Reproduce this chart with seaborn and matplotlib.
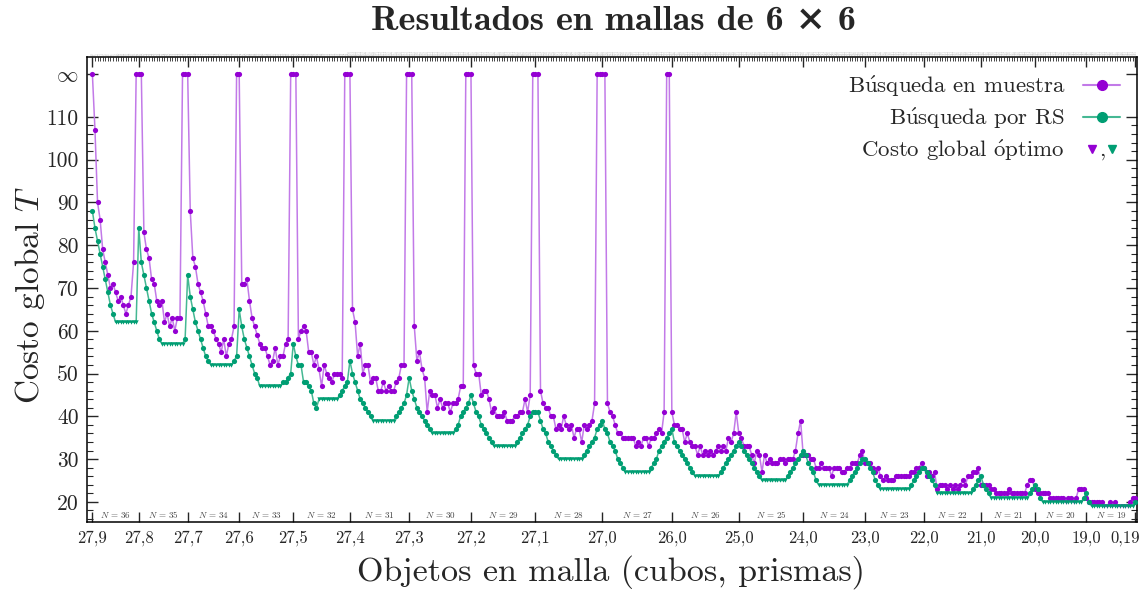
import numpy as np
import pandas as pd
import seaborn as sns
import matplotlib.pyplot as plt
import matplotlib.transforms as mtransforms
from matplotlib.lines import Line2D
from matplotlib.legend_handler import HandlerTuple

INF = np.inf

# Segmentos por numero de objetos N y etiquetas del eje x
segmentos_N = [36, 35, 34, 33, 32, 31, 30, 29, 28, 27, 26, 25, 24, 23, 22, 21, 20, 19]
etiquetas_x = ["27,9", "27,8", "27,7", "27,6", "27,5", "27,4", "27,3", "27,2", "27,1",
               "27,0", "26,0", "25,0", "24,0", "23,0", "22,0", "21,0", "20,0", "19,0", "0,19"]
optimo = [62, 57, 52, 47, 44, 39, 36, 33, 30, 27, 26, 25, 24, 23, 22, 21, 20, 19]

# Busqueda en muestra (INF = sin solucion)
m36 = [INF, 107, 90, 86, 79, 76, 73, 70, 71, 69, 67, 68, 66, 64, 66, 68, 76, INF]
m35 = [INF, INF, 83, 79, 77, 72, 71, 67, 66, 67, 62, 64, 61, 63, 60, 63, 63, INF, INF]
m34 = [INF, 88, 77, 75, 71, 69, 67, 64, 61, 61, 60, 58, 57, 55, 58, 54, 57, 58, 61, INF]
m33 = [INF, 71, 71, 72, 67, 63, 61, 59, 57, 56, 56, 54, 52, 53, 56, 52, 54, 54, 57, 58, INF]
m32 = [INF, INF, 58, 60, 61, 60, 55, 55, 52, 54, 51, 47, 52, 50, 49, 48, 50, 50, 50, 49, INF, INF]
m31 = [INF, 65, 62, 54, 57, 50, 52, 52, 48, 49, 49, 46, 46, 48, 46, 47, 46, 46, 48, 49, 52, 52, INF]
m30 = [INF, INF, 61, 53, 55, 51, 49, 41, 46, 45, 45, 42, 44, 42, 43, 43, 41, 43, 43, 44, 47, 47, INF, INF]
m29 = [INF, 52, 50, 50, 45, 46, 46, 44, 41, 42, 40, 40, 40, 41, 39, 39, 39, 40, 40, 41, 41, 44, 41, 45, INF]
m28 = [INF, INF, 46, 43, 42, 42, 40, 40, 37, 38, 37, 40, 38, 37, 38, 35, 37, 37, 34, 38, 37, 38, 39, 43, INF, INF]
m27 = [INF, INF, 43, 41, 40, 38, 36, 36, 35, 35, 35, 35, 35, 33, 34, 33, 35, 35, 33, 35, 35, 36, 37, 36, 41, INF, INF]
m26 = [41, 38, 38, 37, 37, 34, 36, 34, 33, 33, 31, 33, 31, 32, 31, 32, 31, 32, 33, 32, 33, 32, 35, 34, 36, 41]
m25 = [36, 35, 33, 33, 33, 31, 29, 32, 31, 27, 31, 29, 30, 29, 29, 29, 30, 30, 29, 30, 30, 30, 32, 36, 39]
m24 = [31, 31, 31, 30, 30, 28, 28, 29, 28, 28, 28, 26, 28, 28, 28, 27, 27, 28, 28, 29, 29, 29, 31, 32]
m23 = [29, 29, 29, 28, 27, 28, 26, 25, 26, 25, 25, 25, 26, 26, 26, 26, 26, 26, 27, 27, 28, 28, 29]
m22 = [28, 26, 27, 26, 27, 23, 24, 24, 24, 23, 24, 23, 24, 23, 24, 25, 24, 26, 26, 27, 27, 28]
m21 = [24, 24, 24, 24, 23, 23, 22, 22, 22, 22, 22, 23, 22, 22, 22, 22, 22, 22, 24, 25, 25]
m20 = [23, 22, 22, 22, 22, 22, 21, 21, 21, 21, 21, 21, 20, 21, 21, 20, 21, 23, 23, 23]
m19 = [21, 20, 20, 20, 20, 20, 20, 19, 19, 20, 19, 20, 19, 19, 19, 19, 19, 20, 21, 21]

# Busqueda por RS
rs36 = [88, 84, 81, 78, 75, 72, 69, 66, 64, 62, 62, 62, 62, 62, 62, 62, 62, 62]
rs35 = [84, 76, 73, 70, 67, 64, 62, 60, 58, 57, 57, 57, 57, 57, 57, 57, 57, 57, 58]
rs34 = [73, 68, 65, 62, 60, 58, 56, 54, 53, 52, 52, 52, 52, 52, 52, 52, 52, 52, 53, 54]
rs33 = [65, 61, 58, 56, 54, 52, 50, 49, 47, 47, 47, 47, 47, 47, 47, 47, 47, 48, 48, 49, 50]
rs32 = [57, 54, 52, 52, 48, 48, 47, 46, 43, 42, 44, 44, 44, 44, 44, 44, 44, 44, 45, 46, 47, 48]
rs31 = [53, 50, 48, 46, 44, 43, 42, 41, 40, 39, 39, 39, 39, 39, 39, 39, 39, 39, 40, 41, 42, 43, 45]
rs30 = [49, 46, 44, 42, 41, 40, 39, 38, 37, 36, 36, 36, 36, 36, 36, 36, 36, 36, 37, 38, 40, 41, 42, 43]
rs29 = [45, 43, 41, 40, 38, 37, 36, 35, 34, 33, 33, 33, 33, 33, 33, 33, 33, 33, 34, 35, 36, 37, 38, 40, 41]
rs28 = [41, 41, 39, 37, 36, 34, 33, 32, 31, 30, 30, 30, 30, 30, 30, 30, 30, 30, 30, 31, 32, 33, 34, 35, 37, 38]
rs27 = [39, 37, 36, 34, 33, 32, 30, 29, 28, 27, 27, 27, 27, 27, 27, 27, 27, 27, 27, 28, 29, 30, 32, 33, 34, 35, 36]
rs26 = [37, 34, 33, 32, 31, 30, 29, 28, 27, 26, 26, 26, 26, 26, 26, 26, 26, 26, 26, 27, 28, 29, 30, 31, 32, 33]
rs25 = [34, 33, 32, 31, 30, 29, 28, 27, 26, 25, 25, 25, 25, 25, 25, 25, 25, 25, 25, 26, 27, 28, 29, 30, 31]
rs24 = [32, 31, 29, 28, 27, 25, 24, 24, 24, 24, 24, 24, 24, 24, 24, 24, 24, 24, 25, 26, 27, 28, 29, 30]
rs23 = [30, 29, 28, 27, 25, 24, 23, 23, 23, 23, 23, 23, 23, 23, 23, 23, 23, 23, 24, 25, 26, 27, 28]
rs22 = [28, 27, 26, 25, 24, 22, 22, 22, 22, 22, 22, 22, 22, 22, 22, 22, 22, 22, 22, 23, 24, 25]
rs21 = [26, 24, 23, 22, 21, 21, 21, 21, 21, 21, 21, 21, 21, 21, 21, 21, 21, 21, 21, 22, 23]
rs20 = [24, 23, 21, 20, 20, 20, 20, 20, 20, 20, 20, 20, 20, 20, 20, 20, 20, 20, 20, 21]
rs19 = [22, 20, 19, 19, 19, 19, 19, 19, 19, 19, 19, 19, 19, 19, 19, 19, 19, 19, 19, 20]

muestra_seg = [m36, m35, m34, m33, m32, m31, m30, m29, m28, m27, m26, m25, m24, m23, m22, m21, m20, m19]
rs_seg = [rs36, rs35, rs34, rs33, rs32, rs31, rs30, rs29, rs28, rs27, rs26, rs25, rs24, rs23, rs22,
          rs21, rs20, rs19]

# Tabla larga con un indice por configuracion
filas = []
inicios = []
k = 0
for n, ms, rs, opt in zip(segmentos_N, muestra_seg, rs_seg, optimo):
    inicios.append(k)
    for a, b in zip(ms, rs):
        filas.append((k, n, a, b, opt))
        k += 1
df = pd.DataFrame(filas, columns=["i", "N", "muestra", "rs", "opt"])
Y_INF = 120
df["muestra_y"] = df["muestra"].replace(np.inf, Y_INF)
pos_x = inicios + [len(df) - 1]

VIOLETA = "#9400d3"
LILA = "#c27ae8"
VERDE = "#009e73"
VERDE_L = "#45b893"

sns.set_theme(style="ticks")
plt.rcParams["font.family"] = ["cmr10", "DejaVu Serif"]
plt.rcParams["mathtext.fontset"] = "cm"
plt.rcParams["axes.formatter.use_mathtext"] = True

fig = plt.figure(figsize=(11.46, 5.90), dpi=100)
ax = fig.add_axes([0.0759, 0.1153, 0.9162, 0.7881])

# Busqueda en muestra
sns.lineplot(data=df, x="i", y="muestra_y", color=LILA, lw=1.1, estimator=None, sort=False, ax=ax)
opt_m = df["muestra"] == df["opt"]
sns.scatterplot(data=df[~opt_m], x="i", y="muestra_y", color=VIOLETA, marker="o", s=14,
                linewidth=0, ax=ax, zorder=3)
sns.scatterplot(data=df[opt_m], x="i", y="muestra_y", color=VIOLETA, marker="v", s=10,
                linewidth=0, ax=ax, zorder=3)

# Busqueda por RS
sns.lineplot(data=df, x="i", y="rs", color=VERDE_L, lw=1.1, estimator=None, sort=False, ax=ax)
opt_r = df["rs"] == df["opt"]
sns.scatterplot(data=df[~opt_r], x="i", y="rs", color=VERDE, marker="o", s=14,
                linewidth=0, ax=ax, zorder=4)
sns.scatterplot(data=df[opt_r], x="i", y="rs", color=VERDE, marker="v", s=10,
                linewidth=0, ax=ax, zorder=4)

ax.set_xlim(-2.1, 405.6)
ax.set_ylim(15.3, 124)
ax.set_xlabel("")
ax.set_ylabel("")

# Eje x
ax.set_xticks(pos_x)
ax.set_xticklabels(etiquetas_x, fontsize=12)
ax.set_xticks(df["i"], minor=True)
ax.tick_params(axis="x", which="major", direction="in", length=7, width=1, top=True, bottom=True, pad=6)
ax.tick_params(axis="x", which="minor", direction="in", length=3, width=0.6, top=True, bottom=False)
ultima = ax.get_xticklabels()[-1]
ultima.set_transform(ultima.get_transform() +
                     mtransforms.ScaledTranslation(-7 / 72, 0, fig.dpi_scale_trans))

# Eje y
ax.set_yticks([20, 30, 40, 50, 60, 70, 80, 90, 100, 110, 120])
ax.set_yticklabels(["20", "30", "40", "50", "60", "70", "80", "90", "100", "110", r"$\infty$"], fontsize=15.5)
ax.set_yticks([v for v in range(16, 110, 2) if v % 10 != 0], minor=True)
ax.tick_params(axis="y", which="major", direction="in", length=8, width=1, left=True, right=True, pad=6)
ax.tick_params(axis="y", which="minor", direction="in", length=4, width=0.8, left=True, right=True)

for s in ax.spines.values():
    s.set_linewidth(1.1)
    s.set_color("black")

# Etiquetas tenues en la parte superior
sec = ax.secondary_xaxis("top")
sec.set_xticks(df["i"])
sec.set_xticklabels([str(v) for v in df["i"]], fontsize=2.3, color="#b8b8b8", rotation=90)
sec.tick_params(length=0, pad=1.5)
sec.spines["top"].set_visible(False)

# Etiquetas N por segmento
limites = inicios + [len(df) - 1]
for a, b, n in zip(limites[:-1], limites[1:], segmentos_N):
    ax.text((a + b) / 2, 0.004, rf"$N\,=\,{n}$", transform=ax.get_xaxis_transform(),
            ha="center", va="bottom", fontsize=6.5, color="#444444")

# Leyenda
h1 = Line2D([], [], color=LILA, lw=1.5, marker="o", mfc=VIOLETA, mec=VIOLETA, ms=7)
h2 = Line2D([], [], color=VERDE_L, lw=1.5, marker="o", mfc=VERDE, mec=VERDE, ms=7)
h3 = (Line2D([], [], ls="none", marker="v", color=VIOLETA, ms=6),
      Line2D([], [], ls="none", marker="v", color=VERDE, ms=6))
etiquetas_ley = [r"B$\mathrm{\acute{u}}$squeda en muestra", r"B$\mathrm{\acute{u}}$squeda por RS",
                 r"Costo global $\mathrm{\acute{o}}$ptimo"]
ax.legend([h1, h2, h3], etiquetas_ley,
          handler_map={tuple: HandlerTuple(ndivide=None, pad=0.15)},
          loc="upper right", bbox_to_anchor=(0.984, 0.964), frameon=False, markerfirst=False,
          fontsize=16.5, handlelength=1.6, handletextpad=0.8, labelspacing=0.3,
          borderpad=0, borderaxespad=0)
fig.text(1102 / 1146, 1 - 150 / 590, ",", ha="center", va="center", fontsize=16)

fig.text(0.535, 1 - 22 / 590, "Resultados en mallas de 6 × 6", fontfamily=["cmb10", "DejaVu Serif"],
         fontweight="bold", ha="center", va="center", fontsize=26)
fig.text(0.533, 1 - 572 / 590, "Objetos en malla (cubos, prismas)", ha="center", va="center", fontsize=24.5)
fig.text(30 / 1146, 0.5, "Costo global $T$", rotation=90, ha="center", va="center", fontsize=24)

fig.savefig("out.png", dpi=100)
